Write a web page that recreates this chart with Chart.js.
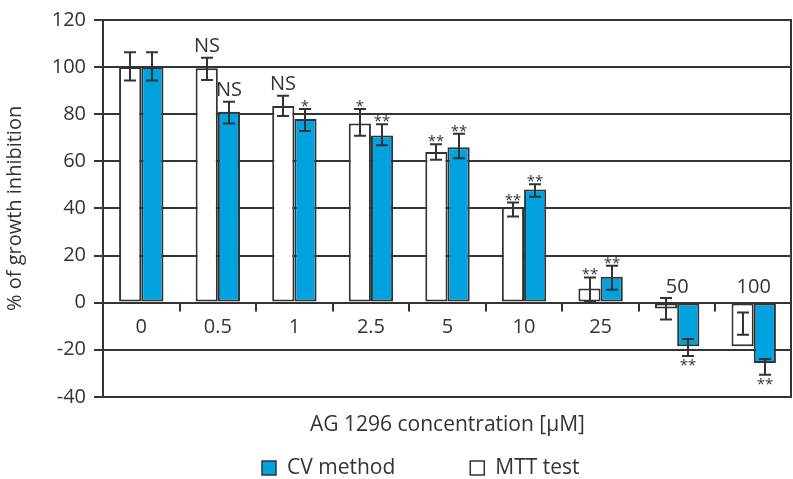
<!DOCTYPE html>
<html>
<head>
<meta charset="utf-8">
<script src="https://cdn.jsdelivr.net/npm/chart.js@4.4.1/dist/chart.umd.min.js"></script>
<style>
  body { margin: 0; background: #fff; }
  #wrap { width: 793px; height: 479px; position: relative; }
</style>
</head>
<body>
<div id="wrap"><canvas id="chart"></canvas></div>
<script>
// AG 1296 concentration (µM)
const categories = ['0', '0.5', '1', '2.5', '5', '10', '25', '50', '100'];

// MTT test (white bars)
const mttValues  = [100, 99.5, 83.5, 76, 64, 40.5, 6, -2.5, -18.5];
const mttErrLow  = [94.3, 94.5, 79.2, 70.8, 60.7, 36.6, 0.4, -7.2, -13.6];
const mttErrHigh = [106.3, 104, 87.8, 82.2, 67.2, 42.5, 10.7, 2, -4.2];
const mttMarks   = ['', 'NS', 'NS', '*', '**', '**', '**', '', ''];

// CV method (blue bars)
const cvValues  = [100, 81, 78, 71, 66, 48, 11, -18.5, -25.6];
const cvErrLow  = [94.3, 76.1, 72.9, 66.8, 61.3, 44.9, 5.5, -22.7, -30.6];
const cvErrHigh = [106.3, 85.3, 82.2, 75.7, 71.7, 50.3, 15.7, -15.5, -24];
const cvMarks   = ['', 'NS', '*', '**', '**', '**', '**', '**', '**'];

const yTicks = [-40, -20, 0, 20, 40, 60, 80, 100, 120];

const ink = '#333333';
const blue = '#00a3e0';
const fontFamily = '"Open Sans", "DejaVu Sans", sans-serif';

// error bars, significance marks, category labels, frame, legend
const extras = {
    id: 'extras',
    afterDatasetsDraw(chart) {
        const { ctx, chartArea, scales: { x, y } } = chart;
        ctx.save();
        ctx.strokeStyle = ink;
        ctx.fillStyle = ink;
        ctx.lineWidth = 2;

        // right frame line
        ctx.beginPath();
        ctx.moveTo(chartArea.right - 1, chartArea.top);
        ctx.lineTo(chartArea.right - 1, chartArea.bottom);
        ctx.stroke();

        // category separators hanging from the zero line
        const y0 = y.getPixelForValue(0);
        for (let i = 1; i < categories.length; i++) {
            const bx = Math.round((x.getPixelForValue(i - 1) + x.getPixelForValue(i)) / 2);
            ctx.beginPath();
            ctx.moveTo(bx, y0);
            ctx.lineTo(bx, y0 + 9);
            ctx.stroke();
        }

        // category labels (above zero line when the bars go negative)
        ctx.font = '20px ' + fontFamily;
        ctx.textAlign = 'center';
        ctx.textBaseline = 'middle';
        categories.forEach((c, i) => {
            const above = cvValues[i] < 0;
            ctx.fillText(c, x.getPixelForValue(i), above ? y0 - 15 : y0 + 25);
        });

        const sets = [
            { idx: 0, vals: mttValues, lo: mttErrLow, hi: mttErrHigh, marks: mttMarks },
            { idx: 1, vals: cvValues, lo: cvErrLow, hi: cvErrHigh, marks: cvMarks }
        ];
        sets.forEach(s => {
            const meta = chart.getDatasetMeta(s.idx);
            meta.data.forEach((bar, i) => {
                const bx = Math.round(bar.x);
                const top = y.getPixelForValue(s.hi[i]);
                const bot = y.getPixelForValue(s.lo[i]);
                ctx.beginPath();
                ctx.moveTo(bx, top);
                ctx.lineTo(bx, bot);
                ctx.moveTo(bx - 6, top);
                ctx.lineTo(bx + 6, top);
                ctx.moveTo(bx - 6, bot);
                ctx.lineTo(bx + 6, bot);
                ctx.stroke();

                const m = s.marks[i];
                if (!m) return;
                ctx.textBaseline = 'alphabetic';
                if (m === 'NS') {
                    ctx.font = '20px ' + fontFamily;
                    ctx.fillText(m, bx, top - 6);
                } else {
                    ctx.font = '15px ' + fontFamily;
                    if (s.vals[i] >= 0) {
                        ctx.fillText(m, bx, top + 2);
                    } else {
                        ctx.fillText(m, bx, bot + 14);
                    }
                }
            });
        });

        // legend (CV method first, then MTT test)
        const items = [chart.data.datasets[1], chart.data.datasets[0]];
        ctx.font = '21px ' + fontFamily;
        ctx.textAlign = 'left';
        ctx.textBaseline = 'middle';
        let lx = 262;
        const ly = 468;
        items.forEach(ds => {
            ctx.fillStyle = ds.backgroundColor;
            ctx.fillRect(lx, ly - 7, 14, 14);
            ctx.strokeStyle = ink;
            ctx.lineWidth = 1.5;
            ctx.strokeRect(lx, ly - 7, 14, 14);
            ctx.fillStyle = ink;
            ctx.fillText(ds.label, lx + 25, ly);
            lx += 25 + ctx.measureText(ds.label).width + 75;
        });
        ctx.restore();
    }
};

new Chart(document.getElementById('chart'), {
    type: 'bar',
    data: {
        labels: categories,
        datasets: [
            {
                label: 'MTT test',
                data: mttValues,
                backgroundColor: '#ffffff',
                borderColor: ink,
                borderWidth: 2,
                borderSkipped: false
            },
            {
                label: 'CV method',
                data: cvValues,
                backgroundColor: blue,
                borderColor: ink,
                borderWidth: 2,
                borderSkipped: false
            }
        ]
    },
    options: {
        responsive: true,
        maintainAspectRatio: false,
        animation: false,
        categoryPercentage: 0.58,
        barPercentage: 1.0,
        layout: { padding: { top: 18, right: 1, bottom: 41, left: 0 } },
        plugins: {
            legend: { display: false },
            tooltip: { enabled: false }
        },
        scales: {
            x: {
                grid: { display: false, drawTicks: false },
                border: { display: false },
                ticks: { display: false },
                title: {
                    display: true,
                    text: 'AG 1296 concentration [μM]',
                    color: ink,
                    font: { family: fontFamily, size: 21 },
                    padding: { top: 16, bottom: 0 }
                }
            },
            y: {
                min: -40,
                max: 120,
                afterBuildTicks: (scale) => {
                    scale.ticks = yTicks.map(v => ({ value: v }));
                },
                afterFit: (scale) => { scale.width = 103; },
                grid: {
                    color: ink,
                    lineWidth: 2,
                    tickLength: 9,
                    tickColor: ink
                },
                border: { color: ink, width: 2 },
                ticks: {
                    color: ink,
                    padding: 8,
                    font: { family: fontFamily, size: 20 }
                },
                title: {
                    display: true,
                    text: '% of growth inhibition',
                    color: ink,
                    font: { family: fontFamily, size: 20 },
                    padding: { top: 3, bottom: 0 }
                }
            }
        }
    },
    plugins: [extras]
});
</script>
</body>
</html>
